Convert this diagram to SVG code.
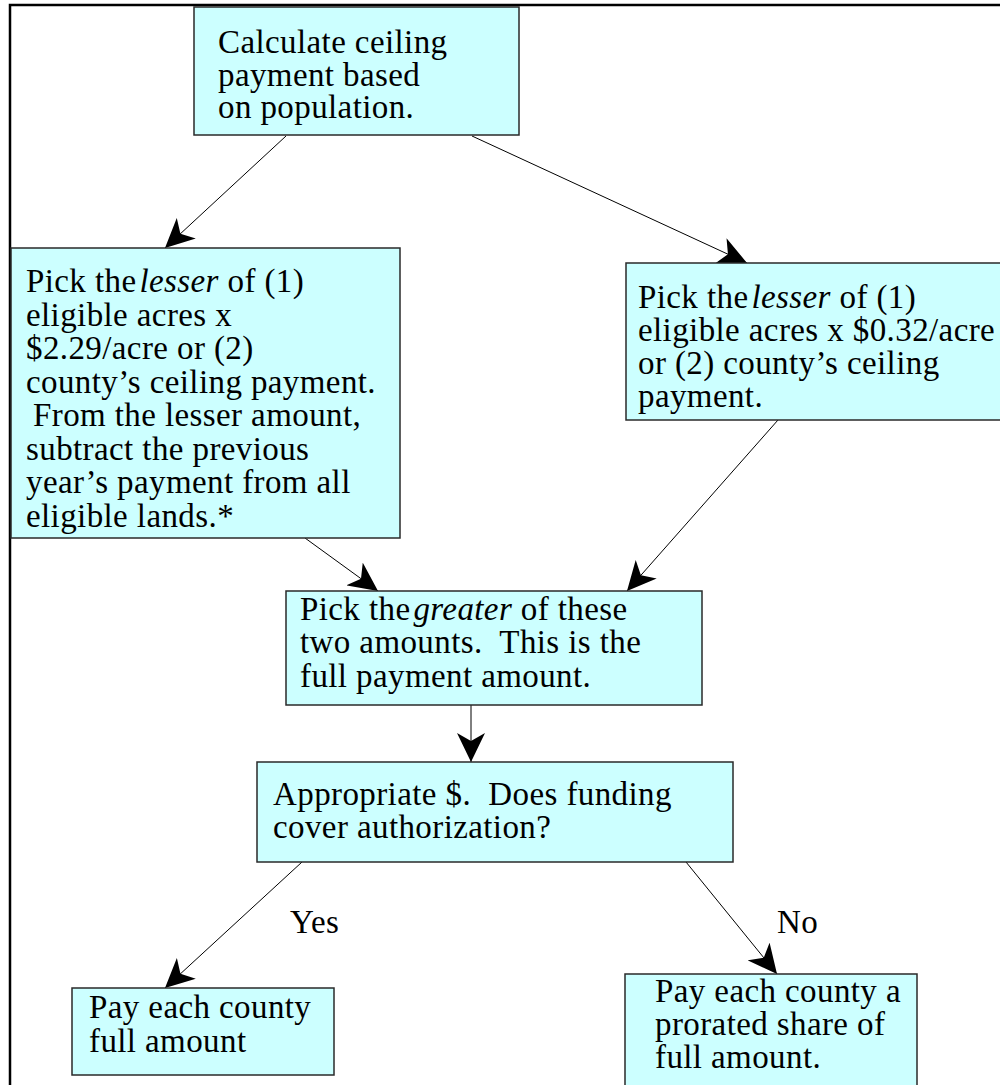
<svg xmlns="http://www.w3.org/2000/svg" width="1000" height="1085" viewBox="0 0 1000 1085">
<defs>
<style>
.box{fill:#ccffff;stroke:#2a2a2a;stroke-width:1.5}
.t{font-family:"Liberation Serif","Times New Roman",serif;font-size:33px;letter-spacing:0.4px;fill:#000}
.i{font-style:italic}
.c{stroke:#000;stroke-width:1;fill:none;marker-end:url(#ah)}
</style>
<marker id="ah" viewBox="0 0 29 28" refX="29" refY="14" markerWidth="29" markerHeight="28" markerUnits="userSpaceOnUse" orient="auto">
<path d="M0,0 L29,14 L0,28 L8,14 Z" fill="#000"/>
</marker>
</defs>
<rect width="1000" height="1085" fill="#fff"/>
<path d="M10,1085 V5 H1000" fill="none" stroke="#000" stroke-width="2.5"/>
<g id="connectors">
<line class="c" x1="286" y1="136" x2="165" y2="248"/>
<line class="c" x1="472" y1="136" x2="747" y2="263"/>
<line class="c" x1="305" y1="538" x2="378" y2="591"/>
<line class="c" x1="778" y1="420" x2="627" y2="591"/>
<line class="c" x1="471" y1="705" x2="471" y2="762"/>
<line class="c" x1="302" y1="862" x2="165" y2="988"/>
<line class="c" x1="686" y1="862" x2="777" y2="974"/>
</g>
<g id="n1">
<rect class="box" x="194" y="7" width="325" height="128"/>
<text class="t" x="218" y="53">Calculate ceiling</text>
<text class="t" x="218" y="85.5">payment based</text>
<text class="t" x="218" y="118">on population.</text>
</g>
<g id="n2">
<rect class="box" x="11" y="248" width="389" height="290"/>
<text class="t" x="26" y="292">Pick the<tspan class="i" dx="3">lesser</tspan> of (1)</text>
<text class="t" x="26" y="325.5">eligible acres x</text>
<text class="t" x="26" y="359">$2.29/acre or (2)</text>
<text class="t" x="26" y="392.5">county’s ceiling payment.</text>
<text class="t" x="33" y="426">From the lesser amount,</text>
<text class="t" x="26" y="459.5">subtract the previous</text>
<text class="t" x="26" y="493">year’s payment from all</text>
<text class="t" x="26" y="526.5">eligible lands.*</text>
</g>
<g id="n3">
<rect class="box" x="626" y="263" width="380" height="157"/>
<text class="t" x="638" y="308">Pick the<tspan class="i" dx="3">lesser</tspan> of (1)</text>
<text class="t" x="638" y="341">eligible acres x $0.32/acre</text>
<text class="t" x="638" y="374">or (2) county’s ceiling</text>
<text class="t" x="638" y="407">payment.</text>
</g>
<g id="n4">
<rect class="box" x="286" y="591" width="416" height="114"/>
<text class="t" x="300" y="620">Pick the<tspan class="i" dx="3">greater</tspan> of these</text>
<text class="t" x="300" y="653" xml:space="preserve">two amounts.  This is the</text>
<text class="t" x="300" y="687">full payment amount.</text>
</g>
<g id="n5">
<rect class="box" x="257" y="762" width="476" height="100"/>
<text class="t" x="273" y="805" xml:space="preserve">Appropriate $.  Does funding</text>
<text class="t" x="273" y="838">cover authorization?</text>
</g>
<text class="t" x="290" y="933">Yes</text>
<text class="t" x="777" y="933">No</text>
<g id="n6">
<rect class="box" x="72" y="988" width="262" height="87"/>
<text class="t" x="89" y="1018">Pay each county</text>
<text class="t" x="89" y="1052">full amount</text>
</g>
<g id="n7">
<rect class="box" x="625" y="974" width="292" height="120"/>
<text class="t" x="655" y="1002">Pay each county a</text>
<text class="t" x="655" y="1035">prorated share of</text>
<text class="t" x="655" y="1068">full amount.</text>
</g>
</svg>
